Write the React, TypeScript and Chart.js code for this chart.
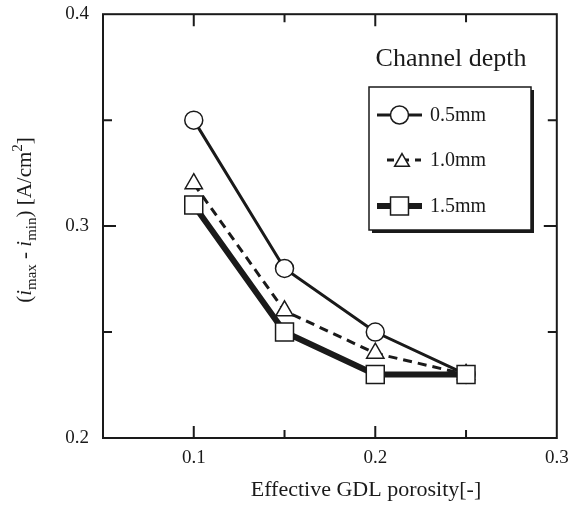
import React, { useEffect, useRef } from 'react';
import { Chart, registerables } from 'chart.js';

Chart.register(...registerables);

const porosity = [0.1, 0.15, 0.2, 0.25];
const depth05 = [0.35, 0.28, 0.25, 0.23];
const depth10 = [0.32, 0.26, 0.24, 0.23];
const depth15 = [0.31, 0.25, 0.23, 0.23];
const seriesLabels = ['0.5mm', '1.0mm', '1.5mm'];
const xTickLabels = [0.1, 0.2, 0.3];
const yTickLabels = [0.2, 0.3, 0.4];
const xMajorTicks = [0.1, 0.2];
const xMinorTicks = [0.15, 0.25];
const yMajorTicks = [0.3];
const yMinorTicks = [0.25, 0.35];
const legendTitle = 'Channel depth';
const xTitle = 'Effective GDL porosity[-]';

const SERIF = '"Liberation Serif", "Times New Roman", serif';
const INK = '#1a1a1a';

type Style = { width: number; dash: number[]; shape: string; radius: number };
const styles: Style[] = [
  { width: 3, dash: [], shape: 'circle', radius: 9 },
  { width: 3, dash: [9, 6], shape: 'triangle', radius: 10 },
  { width: 6, dash: [], shape: 'rect', radius: 12.7 },
];

function drawMarker(ctx: CanvasRenderingContext2D, shape: string, x: number, y: number, r: number) {
  ctx.save();
  ctx.setLineDash([]);
  ctx.fillStyle = '#fff';
  ctx.strokeStyle = INK;
  ctx.lineWidth = 1.5;
  ctx.beginPath();
  if (shape === 'circle') {
    ctx.arc(x, y, r, 0, Math.PI * 2);
  } else if (shape === 'triangle') {
    for (let k = 0; k < 3; k++) {
      const a = (k * 2 * Math.PI) / 3;
      const px = x + Math.sin(a) * r;
      const py = y - Math.cos(a) * r;
      if (k === 0) ctx.moveTo(px, py);
      else ctx.lineTo(px, py);
    }
    ctx.closePath();
  } else {
    const s = Math.SQRT1_2 * r;
    ctx.rect(x - s, y - s, 2 * s, 2 * s);
  }
  ctx.fill();
  ctx.stroke();
  ctx.restore();
}

const decorPlugin = {
  id: 'decor',
  afterDraw(chart: any) {
    const { ctx, chartArea, scales } = chart;
    const { left, right, top, bottom } = chartArea;
    const xs = scales.x;
    const ys = scales.y;
    ctx.save();
    // frame
    ctx.strokeStyle = INK;
    ctx.lineWidth = 2;
    ctx.setLineDash([]);
    ctx.strokeRect(left, top, right - left, bottom - top);
    // ticks
    const tick = (vals: number[], len: number, horiz: boolean) => {
      vals.forEach((v) => {
        ctx.beginPath();
        if (horiz) {
          const px = xs.getPixelForValue(v);
          ctx.moveTo(px, bottom);
          ctx.lineTo(px, bottom - len);
          ctx.moveTo(px, top);
          ctx.lineTo(px, top + len);
        } else {
          const py = ys.getPixelForValue(v);
          ctx.moveTo(left, py);
          ctx.lineTo(left + len, py);
          ctx.moveTo(right, py);
          ctx.lineTo(right - len, py);
        }
        ctx.stroke();
      });
    };
    tick(xMajorTicks, 12, true);
    tick(xMinorTicks, 8, true);
    tick(yMajorTicks, 13, false);
    tick(yMinorTicks, 9, false);

    // x title
    ctx.fillStyle = INK;
    ctx.font = `22px ${SERIF}`;
    ctx.textAlign = 'center';
    ctx.textBaseline = 'alphabetic';
    ctx.fillText(xTitle, 366, 496);

    // y title (rotated, rich text)
    const segs = [
      { t: '(', f: `21px ${SERIF}`, dy: 0 },
      { t: 'i', f: `italic 21px ${SERIF}`, dy: 0 },
      { t: 'max', f: `15px ${SERIF}`, dy: 5 },
      { t: ' - ', f: `21px ${SERIF}`, dy: 0 },
      { t: 'i', f: `italic 21px ${SERIF}`, dy: 0 },
      { t: 'min', f: `15px ${SERIF}`, dy: 5 },
      { t: ') [A/cm', f: `21px ${SERIF}`, dy: 0 },
      { t: '2', f: `15px ${SERIF}`, dy: -9 },
      { t: ']', f: `21px ${SERIF}`, dy: 0 },
    ];
    let total = 0;
    const widths = segs.map((s) => {
      ctx.font = s.f;
      const w = ctx.measureText(s.t).width;
      total += w;
      return w;
    });
    ctx.save();
    ctx.translate(31, 220);
    ctx.rotate(-Math.PI / 2);
    ctx.textAlign = 'left';
    let cx = -total / 2;
    segs.forEach((s, i) => {
      ctx.font = s.f;
      ctx.fillText(s.t, cx, s.dy);
      cx += widths[i];
    });
    ctx.restore();

    // legend title
    ctx.font = `26px ${SERIF}`;
    ctx.textAlign = 'center';
    ctx.textBaseline = 'middle';
    ctx.fillText(legendTitle, 451, 59);

    // legend box with shadow
    const bx = 369, by = 87, bw = 162, bh = 143;
    ctx.fillStyle = INK;
    ctx.fillRect(bx + 3, by + 3, bw, bh);
    ctx.fillStyle = '#fff';
    ctx.fillRect(bx, by, bw, bh);
    ctx.strokeStyle = INK;
    ctx.lineWidth = 1.5;
    ctx.strokeRect(bx, by, bw, bh);

    const rows = [115, 160, 206];
    seriesLabels.forEach((lab, i) => {
      const st = styles[i];
      const y = rows[i];
      ctx.save();
      ctx.strokeStyle = INK;
      ctx.lineWidth = st.width;
      ctx.setLineDash(st.dash);
      ctx.beginPath();
      if (i === 1) {
        ctx.lineDashOffset = 2;
        ctx.moveTo(387, y);
        ctx.lineTo(421, y);
      } else {
        ctx.moveTo(377, y);
        ctx.lineTo(422, y);
      }
      ctx.stroke();
      ctx.restore();
      drawMarker(ctx, st.shape, i === 1 ? 402 : 399.5, i === 1 ? y + 2 : y, st.radius * (i === 1 ? 0.85 : 1));
      ctx.fillStyle = INK;
      ctx.font = `20px ${SERIF}`;
      ctx.textAlign = 'left';
      ctx.textBaseline = 'middle';
      ctx.fillText(lab, 430, y + 1);
    });
    ctx.restore();
  },
};

export default function App() {
  const ref = useRef<HTMLCanvasElement>(null);
  useEffect(() => {
    if (!ref.current) return;
    const series = [depth05, depth10, depth15];
    const datasets = series.map((vals, i) => ({
      label: seriesLabels[i],
      data: porosity.map((x, k) => ({ x, y: vals[k] })),
      showLine: true,
      borderColor: INK,
      borderWidth: styles[i].width,
      borderDash: styles[i].dash,
      pointStyle: styles[i].shape,
      pointRadius: styles[i].radius,
      pointBackgroundColor: '#fff',
      pointBorderColor: INK,
      pointBorderWidth: 1.5,
      order: 2 - i,
      tension: 0,
    }));
    const tickFont = { family: SERIF, size: 19 };
    const chart = new Chart(ref.current, {
      type: 'scatter',
      data: { datasets },
      plugins: [decorPlugin],
      options: {
        animation: false,
        responsive: false,
        events: [],
        layout: { padding: { top: 14, right: 8, bottom: 0, left: 0 } },
        plugins: { legend: { display: false }, tooltip: { enabled: false }, title: { display: false } },
        scales: {
          x: {
            type: 'linear',
            min: 0.05,
            max: 0.3,
            grid: { display: false, drawTicks: false },
            border: { display: false },
            afterBuildTicks: (s: any) => {
              s.ticks = xTickLabels.map((v) => ({ value: v }));
            },
            afterFit: (s: any) => {
              s.height = 69;
              s.paddingLeft = 0;
              s.paddingRight = 0;
            },
            ticks: {
              autoSkip: false,
              maxRotation: 0,
              padding: 9,
              color: INK,
              font: tickFont,
              callback: (v: any) => Number(v).toFixed(1),
            },
          },
          y: {
            type: 'linear',
            min: 0.2,
            max: 0.4,
            grid: { display: false, drawTicks: false },
            border: { display: false },
            afterBuildTicks: (s: any) => {
              s.ticks = yTickLabels.map((v) => ({ value: v }));
            },
            afterFit: (s: any) => {
              s.width = 103;
              s.paddingTop = 0;
              s.paddingBottom = 0;
            },
            ticks: {
              autoSkip: false,
              padding: 14,
              color: INK,
              font: tickFont,
              callback: (v: any) => Number(v).toFixed(1),
            },
          },
        },
      } as any,
    });
    return () => chart.destroy();
  }, []);
  return (
    <div style={{ position: 'fixed', left: 0, top: 0, width: 571, height: 507, background: '#fff' }}>
      <canvas ref={ref} width={571} height={507} style={{ display: 'block' }} />
    </div>
  );
}
